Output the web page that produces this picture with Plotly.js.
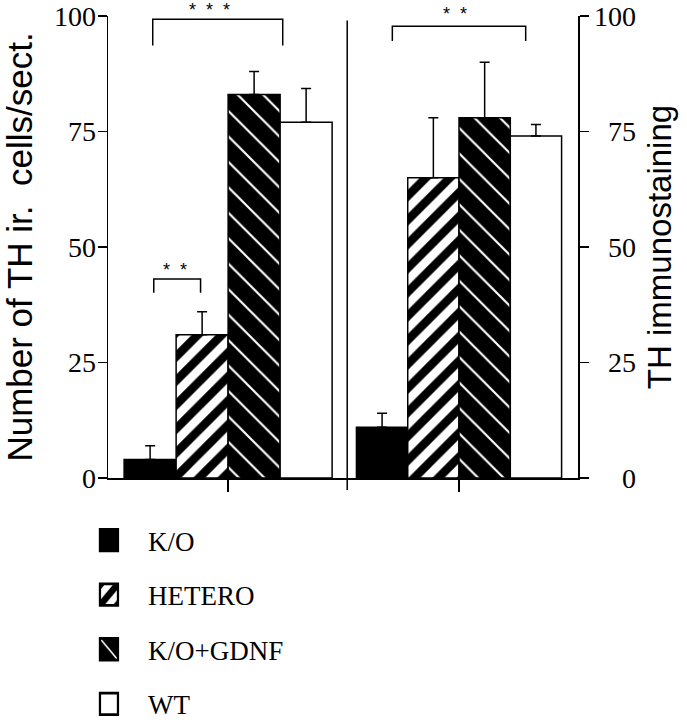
<!DOCTYPE html>
<html>
<head>
<meta charset="utf-8">
<script src="https://cdn.plot.ly/plotly-3.0.1.min.js"></script>
<style>html,body{margin:0;padding:0;background:#fff}</style>
</head>
<body>
<div id="chart" style="width:687px;height:720px"></div>
<script>
// ---- data ----
const categories = ['K/O', 'HETERO', 'K/O+GDNF', 'WT'];
const cellsPerSection = [4, 31, 83, 77];
const cellsPerSectionErr = [3, 5, 5, 7.3];
const immunostaining = [11, 65, 78, 74];
const immunostainingErr = [3, 13, 12, 2.5];
const yTickVals = [0, 25, 50, 75, 100];
const yTickText = ['0', '25', '50', '75', '100'];
const yRange = [0, 100];
// significance brackets (left panel)
const bracketFrom = [0.05, 0.07];
const bracketTo = [2.55, 0.97];
const bracketTop = [99.3, 43.1];
const bracketLeg = [93.6, 40.1];
const bracketLabel = ['*  *  *', '*  *'];
const bracketLabelX = [1.15, 0.48];
const bracketLabelY = [103.9, 47.6];
// significance brackets (right panel)
const bracket2From = [0.2];
const bracket2To = [2.8];
const bracket2Top = [97.8];
const bracket2Leg = [94.6];
const bracket2Label = ['*  *'];
const bracket2LabelX = [1.43];
const bracket2LabelY = [103.0];

// ---- styles ----
const patterns = [
  {shape: '', fgcolor: 'black', bgcolor: 'black'},
  {shape: '/', fgcolor: 'black', bgcolor: 'white', size: 17, solidity: 0.5, fillmode: 'replace'},
  {shape: '\\', fgcolor: 'white', bgcolor: 'black', size: 18, solidity: 0.12, fillmode: 'replace'},
  {shape: '', fgcolor: 'white', bgcolor: 'white'}
];
const fills = ['black', 'white', 'black', 'white'];
const serif = 'Liberation Serif, Times New Roman, serif';
const sans = 'Liberation Sans, Arial, sans-serif';

const toDomain = v => (v - yRange[0]) / (yRange[1] - yRange[0]);

const traces = [];
function addPanel(values, errs, xa, ya, showLegend) {
  categories.forEach((c, i) => {
    traces.push({
      type: 'bar',
      name: c,
      legendgroup: c,
      showlegend: showLegend,
      x: [i],
      y: [values[i]],
      width: 1,
      xaxis: xa,
      yaxis: ya,
      marker: {
        color: fills[i],
        line: {color: 'black', width: 1.5},
        pattern: patterns[i]
      },
      error_y: {
        type: 'data', symmetric: false,
        array: [errs[i]], arrayminus: [0],
        color: 'black', thickness: 1.5, width: 5
      },
      hoverinfo: 'skip'
    });
  });
}
addPanel(cellsPerSection, cellsPerSectionErr, 'x', 'y', true);
addPanel(immunostaining, immunostainingErr, 'x2', 'y2', false);

const shapes = [];
const annotations = [];
bracketFrom.forEach((f, k) => {
  shapes.push({type: 'path', xref: 'x', yref: 'y',
    path: `M${f},${bracketLeg[k]} L${f},${bracketTop[k]} L${bracketTo[k]},${bracketTop[k]} L${bracketTo[k]},${bracketLeg[k]}`,
    line: {color: 'black', width: 1.5}});
  annotations.push({xref: 'x', yref: 'y domain', x: bracketLabelX[k], y: toDomain(bracketLabelY[k]),
    yanchor: 'top', text: bracketLabel[k], showarrow: false,
    font: {family: sans, size: 18, color: 'black'}});
});
bracket2From.forEach((f, k) => {
  shapes.push({type: 'path', xref: 'x2', yref: 'y2',
    path: `M${f},${bracket2Leg[k]} L${f},${bracket2Top[k]} L${bracket2To[k]},${bracket2Top[k]} L${bracket2To[k]},${bracket2Leg[k]}`,
    line: {color: 'black', width: 1.5}});
  annotations.push({xref: 'x2', yref: 'y2 domain', x: bracket2LabelX[k], y: toDomain(bracket2LabelY[k]),
    yanchor: 'top', text: bracket2Label[k], showarrow: false,
    font: {family: sans, size: 18, color: 'black'}});
});
// divider between panels
const split = (347 - 108) / 469.6;
shapes.push({type: 'line', xref: 'paper', yref: 'paper', x0: split, x1: split, y0: -0.026, y1: 0.99,
  line: {color: 'black', width: 1.5}});
// tick labels of both value axes, right-aligned as in the original
yTickVals.forEach((v, k) => {
  annotations.push({xref: 'paper', yref: 'y', x: (98 - 108) / 469.6, y: v, xanchor: 'right',
    yanchor: 'middle', text: yTickText[k], showarrow: false,
    font: {family: serif, size: 28, color: 'black'}});
  annotations.push({xref: 'paper', yref: 'y2', x: (638 - 108) / 469.6, y: v, xanchor: 'right',
    yanchor: 'middle', text: yTickText[k], showarrow: false,
    font: {family: serif, size: 28, color: 'black'}});
});

const layout = {
  width: 687, height: 720,
  margin: {l: 108, r: 109.4, t: 16, b: 242, pad: 0, autoexpand: false},
  paper_bgcolor: 'white', plot_bgcolor: 'white',
  barmode: 'overlay',
  showlegend: true,
  legend: {
    x: (70 - 108) / 469.6, xanchor: 'left',
    y: (478 - 516) / 462, yanchor: 'top',
    font: {family: serif, size: 27, color: 'black'},
    itemwidth: 68, tracegroupgap: 16.5,
    bgcolor: 'rgba(0,0,0,0)'
  },
  xaxis: {
    domain: [0, split], range: [-0.81, 3.79],
    showline: true, linecolor: 'black', linewidth: 1.5,
    showgrid: false, zeroline: false,
    tickmode: 'array', tickvals: [1.5], ticktext: [''],
    ticks: 'outside', ticklen: 12, tickwidth: 1.5, tickcolor: 'black'
  },
  xaxis2: {
    domain: [split, 1], range: [-0.68, 3.82], anchor: 'y2',
    showline: true, linecolor: 'black', linewidth: 1.5,
    showgrid: false, zeroline: false,
    tickmode: 'array', tickvals: [1.5], ticktext: [''],
    ticks: 'outside', ticklen: 12, tickwidth: 1.5, tickcolor: 'black'
  },
  yaxis: {
    range: yRange, anchor: 'x',
    tickmode: 'array', tickvals: yTickVals, ticktext: yTickText,
    ticks: 'outside', ticklen: 9, tickwidth: 1.5, tickcolor: 'black',
    showticklabels: false,
    showline: true, linecolor: 'black', linewidth: 1.5,
    showgrid: false, zeroline: false,
    title: {text: 'Number of TH ir.  cells/sect.', font: {family: sans, size: 35, color: 'black'}, standoff: 56},
    automargin: false
  },
  yaxis2: {
    range: yRange, anchor: 'x2', side: 'right',
    tickmode: 'array', tickvals: yTickVals, ticktext: yTickText,
    ticks: 'outside', ticklen: 9, tickwidth: 1.5, tickcolor: 'black',
    showticklabels: false,
    showline: true, linecolor: 'black', linewidth: 1.5,
    showgrid: false, zeroline: false,
    title: {text: 'TH immunostaining', font: {family: sans, size: 33, color: 'black'}, standoff: 60},
    automargin: false
  },
  shapes: shapes,
  annotations: annotations
};

Plotly.newPlot('chart', traces, layout, {staticPlot: true, displayModeBar: false}).then(gd => {
  // enlarge legend swatches to the size used in the original figure
  gd.querySelectorAll('.legend .legendpoints path').forEach(p => {
    const t = p.getAttribute('transform') || '';
    p.setAttribute('transform', t + ' scale(1.5,1.8)');
  });
});
</script>
</body>
</html>
